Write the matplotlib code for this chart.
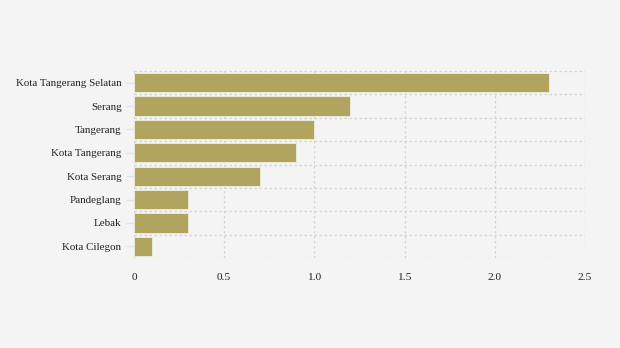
import matplotlib
matplotlib.use("Agg")
import matplotlib.pyplot as plt
import numpy as np

categories = ["Kota Tangerang Selatan", "Serang", "Tangerang", "Kota Tangerang",
              "Kota Serang", "Pandeglang", "Lebak", "Kota Cilegon"]
values = [2.3, 1.2, 1.0, 0.9, 0.7, 0.3, 0.3, 0.1]
xticks = [0, 0.5, 1.0, 1.5, 2.0, 2.5]
xticklabels = ["0", "0.5", "1.0", "1.5", "2.0", "2.5"]

bg = "#f4f4f4"
fig = plt.figure(figsize=(6.2, 3.48), dpi=100, facecolor=bg)
ax = fig.add_axes([134/620, 1-258/348, (585-134)/620, (258-71)/348], facecolor=bg)

y = np.arange(len(categories))
ax.barh(y, values, height=0.82, color="#b0a45e", edgecolor="#f0eee0", linewidth=0.6, zorder=3)
ax.set_ylim(len(categories)-0.5, -0.5)
ax.set_xlim(0, 2.5)

ax.set_yticks(y)
ax.set_yticklabels(categories, fontfamily="Liberation Serif", fontsize=7.9, color="#222222")
ax.set_yticks(np.arange(-0.5, len(categories), 1.0), minor=True)
ax.set_xticks(xticks)
ax.set_xticklabels(xticklabels, fontfamily="Liberation Serif", fontsize=8.2, color="#222222")

ax.tick_params(axis="y", which="major", length=6, color="#e2e2e2", width=1, pad=3)
ax.tick_params(axis="y", which="minor", length=0)
ax.tick_params(axis="x", length=0, pad=10.5)

ax.grid(True, axis="x", which="major", color="#d3d3d3", linestyle=(0, (2, 2)), linewidth=0.9, zorder=0)
ax.grid(True, axis="y", which="minor", color="#d3d3d3", linestyle=(0, (2, 2)), linewidth=0.9, zorder=0)
ax.grid(False, axis="y", which="major")
for s in ax.spines.values():
    s.set_visible(False)
ax.axvline(0, color="#d3d3d3", linestyle=(0, (2, 2)), linewidth=0.9, zorder=0)

fig.savefig("out.png", dpi=100, facecolor=bg)
